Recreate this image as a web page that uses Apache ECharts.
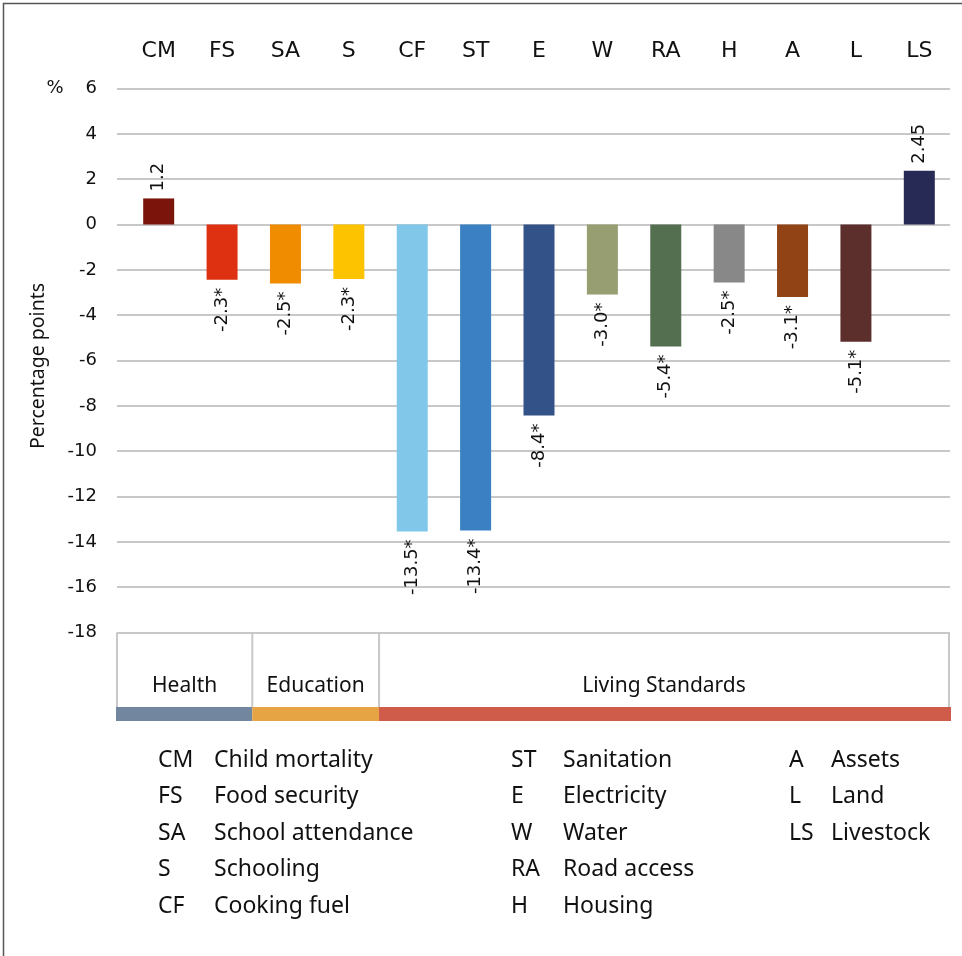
<!DOCTYPE html>
<html>
<head>
<meta charset="utf-8">
<script src="https://cdn.jsdelivr.net/npm/echarts@6/dist/echarts.min.js"></script>
<style>
html,body{margin:0;padding:0;background:#fff;}
#c{width:962px;height:956px;}
</style>
</head>
<body>
<div id="c"></div>
<script>
// ---- data ----
const categories = ['CM','FS','SA','S','CF','ST','E','W','RA','H','A','L','LS'];
const names = ['Child mortality','Food security','School attendance','Schooling','Cooking fuel',
               'Sanitation','Electricity','Water','Road access','Housing',
               'Assets','Land','Livestock'];
const values = [1.15, -2.44, -2.6, -2.4, -13.54, -13.5, -8.43, -3.09, -5.38, -2.56, -3.2, -5.17, 2.37];
const labels = ['1.2','-2.3*','-2.5*','-2.3*','-13.5*','-13.4*','-8.4*','-3.0*','-5.4*','-2.5*','-3.1*','-5.1*','2.45'];
const colors = ['#7B150B','#DD3112','#F08C00','#FDC300','#80C7E9','#3A80C3','#335388','#979E71','#546E50','#888888','#924316','#5C2F2D','#262A55'];
const groups = ['Health','Education','Living Standards'];
const groupSpans = [2, 2, 9];
const groupColors = ['#72879F','#E6A444','#CF5B4A'];
const legendColumns = [5, 5, 3];
const yTicks = {min: -18, max: 6, interval: 2};

const chart = echarts.init(document.getElementById('c'), null, {renderer: 'canvas'});
const GRID_TOP = 88.5, GRID_BOTTOM = 956 - 632.5;
const gray = '#C8C8C8';

const option = {
  backgroundColor: '#fff',
  animation: false,
  grid: [
    {left: 117, right: 12, top: GRID_TOP, bottom: GRID_BOTTOM},
    {left: 127, right: 11, top: GRID_TOP, bottom: GRID_BOTTOM}
  ],
  xAxis: [
    {gridIndex: 0, type: 'category', data: categories, show: false},
    {gridIndex: 1, type: 'category', data: categories, position: 'top',
     axisLine: {show: false}, axisTick: {show: false},
     axisLabel: {color: '#111', fontSize: 22, fontFamily: 'DejaVu Sans', margin: 26, interval: 0}}
  ],
  yAxis: [
    {gridIndex: 0, type: 'value', min: yTicks.min, max: yTicks.max, interval: yTicks.interval,
     axisLine: {show: false}, axisTick: {show: false},
     axisLabel: {color: '#111', fontSize: 18, fontFamily: 'DejaVu Sans', margin: 20},
     splitLine: {lineStyle: {color: gray, width: 2}}},
    {gridIndex: 1, type: 'value', min: yTicks.min, max: yTicks.max, interval: yTicks.interval, show: false,
     splitLine: {show: false}}
  ],
  series: [{
    type: 'bar',
    xAxisIndex: 1, yAxisIndex: 1,
    barWidth: 31,
    data: values.map((v, i) => ({
      value: v,
      itemStyle: {color: colors[i]},
      label: {
        show: true,
        position: v >= 0 ? 'top' : 'bottom',
        rotate: 90,
        align: v >= 0 ? 'left' : 'right',
        verticalAlign: 'middle',
        distance: v >= 0 ? 7 : 8,
        formatter: labels[i],
        color: '#111',
        fontSize: 18,
        fontFamily: 'DejaVu Sans'
      }
    }))
  }]
};
chart.setOption(option);

// ---- decorations computed from the axes ----
const g = [];
// frame
g.push({type: 'rect', shape: {x: 3.5, y: 3.5, width: 1200, height: 1200},
        style: {fill: 'none', stroke: '#555', lineWidth: 1.5}, silent: true});
// % sign and y axis title
g.push({type: 'text', x: 55, y: 88.5, style: {text: '%', fontSize: 18, fontFamily: 'DejaVu Sans', fill: '#111', align: 'center', verticalAlign: 'middle'}});
g.push({type: 'text', x: 38, y: 366, rotation: Math.PI / 2,
        style: {text: 'Percentage points', fontSize: 19.5, fontFamily: 'Noto Sans', fill: '#111', align: 'center', verticalAlign: 'middle'}});

const yTop = chart.convertToPixel({yAxisIndex: 0}, yTicks.min);
const boxBottom = yTop + 74.5;
const stripH = 14;
const plotLeft = 117;
const bandW = chart.convertToPixel({xAxisIndex: 1}, categories[1]) - chart.convertToPixel({xAxisIndex: 1}, categories[0]);
const bandEdge = k => chart.convertToPixel({xAxisIndex: 1}, categories[0]) - bandW / 2 + k * bandW;

let k = 0;
const edges = [plotLeft];
groupSpans.forEach(s => { k += s; edges.push(k === categories.length ? bandEdge(k) - 2 : bandEdge(k) - 1.5); });
edges.forEach(x => {
  g.push({type: 'line', shape: {x1: x, y1: yTop, x2: x, y2: boxBottom}, style: {stroke: gray, lineWidth: 2}, silent: true});
});
groups.forEach((name, i) => {
  const x0 = i === 0 ? plotLeft - 1 : edges[i];
  const x1 = i === groups.length - 1 ? bandEdge(categories.length) : edges[i + 1];
  g.push({type: 'rect', shape: {x: x0, y: boxBottom, width: x1 - x0, height: stripH}, style: {fill: groupColors[i]}, silent: true});
  g.push({type: 'text', x: (edges[i] + edges[i + 1]) / 2, y: boxBottom - 21,
          style: {text: name, fontSize: 21, fontFamily: 'Noto Sans', fill: '#111', align: 'center', verticalAlign: 'middle'}});
});

// legend (three columns)
const colCodeX = [158, 511, 789];
const colNameX = [214, 563, 831];
const rowY0 = 760, rowStep = 36.5;
let idx = 0;
legendColumns.forEach((n, c) => {
  for (let r = 0; r < n; r++, idx++) {
    const y = rowY0 + r * rowStep;
    g.push({type: 'text', x: colCodeX[c], y: y, style: {text: categories[idx], fontSize: 23, fontFamily: 'Noto Sans', fill: '#111', align: 'left', verticalAlign: 'middle'}});
    g.push({type: 'text', x: colNameX[c], y: y, style: {text: names[idx], fontSize: 23, fontFamily: 'Noto Sans', fill: '#111', align: 'left', verticalAlign: 'middle'}});
  }
});

chart.setOption({graphic: g});
</script>
</body>
</html>
